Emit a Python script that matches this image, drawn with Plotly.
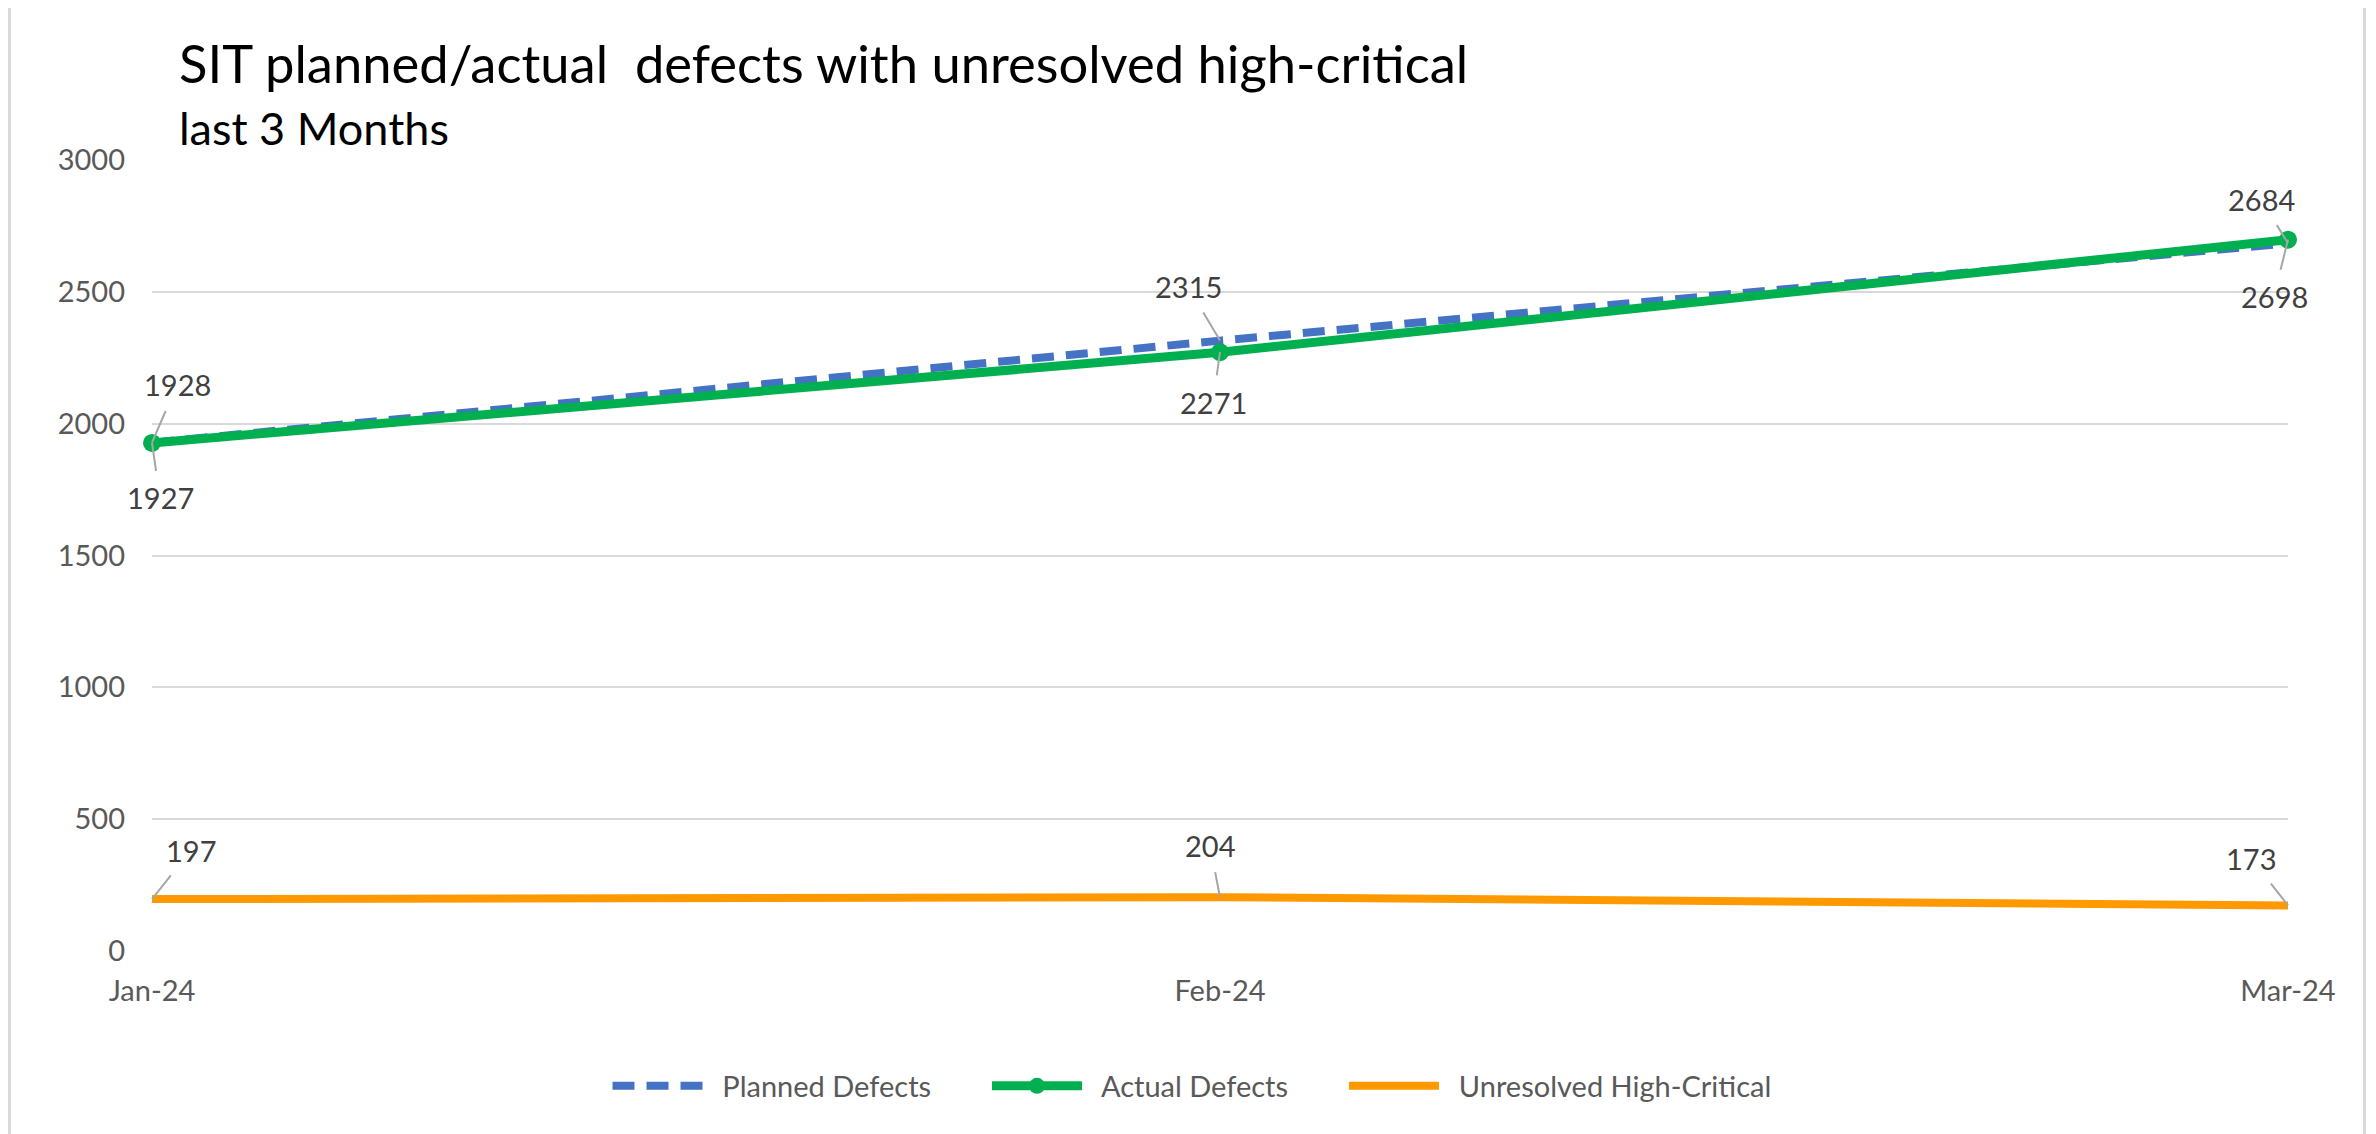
import plotly.graph_objects as go

months = ["Jan-24", "Feb-24", "Mar-24"]
planned = [1928, 2315, 2684]
actual = [1927, 2271, 2698]
unresolved = [197, 204, 173]
y_ticks = [0, 500, 1000, 1500, 2000, 2500, 3000]
series_names = ["Planned Defects", "Actual Defects", "Unresolved High-Critical"]

title_text = "SIT planned/actual\u00a0 defects with unresolved high-critical"
subtitle_text = "last 3 Months"

OFF = 8  # page body margin
W, H = 2376 - OFF, 1134 - OFF
PLOT_L, PLOT_R, PLOT_T, PLOT_B = 152, 2288, 160, 951  # page pixel coords
ML, MR, MT, MB = PLOT_L - OFF, (W + OFF) - PLOT_R, PLOT_T - OFF, (H + OFF) - PLOT_B
PW, PH = W - ML - MR, H - MT - MB


def px_x(px):
    return (px - OFF - ML) / PW


def px_y(py):
    return (H - MB - (py - OFF)) / PH


FONT = "Lato"
BLUE = "#4472C4"
GREEN = "#00B050"
ORANGE = "#FF9900"
GRAY_TXT = "#595959"
LABEL_TXT = "#404040"
PRE = "\u00a0\u00a0"
PAD = "\u2003\u2003\u00a0"

fig = go.Figure()
fig.add_trace(go.Scatter(x=months, y=planned, name=PRE + series_names[0] + PAD, mode="lines",
                         line=dict(color=BLUE, width=8, dash="22px,12px"), cliponaxis=False))
fig.add_trace(go.Scatter(x=months, y=actual, name=PRE + series_names[1] + PAD, mode="lines+markers",
                         line=dict(color=GREEN, width=9), marker=dict(size=18, color=GREEN),
                         cliponaxis=False))
fig.add_trace(go.Scatter(x=months, y=unresolved, name=PRE + series_names[2], mode="lines",
                         line=dict(color=ORANGE, width=8), cliponaxis=False))

# data labels with leader lines (offsets in px: text centre relative to point)
planned_off = [(25, -58), (-32, -54), (-27, -44)]
actual_off = [(8, 55), (-7, 50), (-14, 57)]
unres_off = [(39, -49), (-10, -52), (-37, -47)]

annotations = []
for series, offs in ((planned, planned_off), (actual, actual_off), (unresolved, unres_off)):
    for m, v, (ax, ay) in zip(months, series, offs):
        annotations.append(dict(
            x=m, y=v, xref="x", yref="y", text=str(v), showarrow=True,
            ax=ax, ay=ay, arrowhead=0, arrowwidth=2, arrowcolor="#A6A6A6",
            standoff=0, startstandoff=8,
            font=dict(family=FONT, size=29, color=LABEL_TXT)))

annotations.append(dict(x=px_x(177), y=px_y(63), xref="paper", yref="paper", text=title_text,
                        showarrow=False, xanchor="left", yanchor="middle",
                        font=dict(family=FONT, size=52.5, color="#000000")))
annotations.append(dict(x=px_x(177), y=px_y(128), xref="paper", yref="paper", text=subtitle_text,
                        showarrow=False, xanchor="left", yanchor="middle",
                        font=dict(family=FONT, size=45, color="#000000")))

fig.update_layout(
    width=W, height=H,
    margin=dict(l=ML, r=MR, t=MT, b=MB),
    paper_bgcolor="white", plot_bgcolor="white",
    showlegend=True,
    legend=dict(orientation="h", x=px_x(1192), xanchor="center", y=px_y(1086), yanchor="middle",
                font=dict(family=FONT, size=29, color=GRAY_TXT), itemwidth=90,
                bgcolor="rgba(0,0,0,0)"),
    annotations=annotations,
    shapes=[dict(type="rect", xref="paper", yref="paper",
                 x0=px_x(9.5), x1=px_x(2364.5), y0=px_y(1160), y1=px_y(2.5),
                 line=dict(color="#D9D9D9", width=3), layer="below")],
)
fig.update_xaxes(type="category", range=[0, 2], showgrid=False, zeroline=False,
                 showline=False, ticks="", ticklabelstandoff=20,
                 tickfont=dict(family=FONT, size=29, color=GRAY_TXT))
fig.update_yaxes(range=[0, 3000], tickvals=y_ticks, showgrid=True, gridcolor="#D9D9D9",
                 gridwidth=2, zeroline=False, showline=False, ticks="",
                 ticklabelstandoff=26,
                 tickfont=dict(family=FONT, size=29, color=GRAY_TXT))

fig.write_html("out.html")
